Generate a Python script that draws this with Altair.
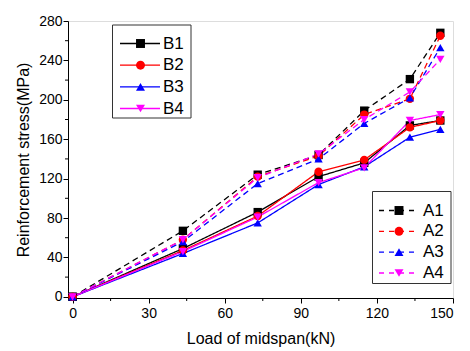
import altair as alt
import pandas as pd

loads = [0, 43.5, 73, 97, 115, 133, 145]

A1 = [0, 67, 124, 144, 189, 221, 268]
A2 = [0, 58, 122, 143, 185, 201, 265]
A3 = [0, 56, 115, 140, 176, 202, 253]
A4 = [0, 58, 121, 145, 180, 208, 241]
B1 = [0, 49, 86, 122, 136, 174, 179]
B2 = [0, 47, 82, 127, 139, 172, 179]
B3 = [0, 44, 75, 114, 132, 162, 170]
B4 = [0, 46, 81, 116, 131, 179, 185]

series_names = ["B1", "B2", "B3", "B4", "A1", "A2", "A3", "A4"]
series_vals = [B1, B2, B3, B4, A1, A2, A3, A4]
colors = ["black", "#FF0000", "#0000FF", "#FF00FF"] * 2
shapes = ["square", "circle", "triangle-up", "triangle-down"] * 2

x_minor = [15, 45, 75, 105, 135]
y_minor = [20, 60, 100, 140, 180, 220, 260]

rows = []
for name, vals in zip(series_names, series_vals):
    for x, v in zip(loads, vals):
        rows.append({"series": name, "group": name[0], "load": x, "stress": v})
df = pd.DataFrame(rows)

W, H = 385, 277
FONT = "Liberation Sans"

color_scale = alt.Scale(domain=series_names, range=colors)
shape_scale = alt.Scale(domain=series_names, range=shapes)
dash_scale = alt.Scale(domain=["A", "B"], range=[[6, 4], [1, 0]])

xs = alt.Scale(domain=[-1.8, 150], nice=False)
ys = alt.Scale(domain=[-1.2, 280], nice=False)

xaxis = alt.Axis(values=[0, 30, 60, 90, 120, 150], title="Load of midspan(kN)",
                 grid=False, tickSize=5, labelFontSize=14, titleFontSize=16,
                 titleFontWeight="normal", labelPadding=3, titlePadding=10,
                 domainColor="black", tickColor="black", labelColor="black",
                 titleColor="black", labelFont=FONT, titleFont=FONT)
yaxis = alt.Axis(values=[0, 40, 80, 120, 160, 200, 240, 280],
                 title="Reinforcement stress(MPa)",
                 grid=False, tickSize=5, labelFontSize=14, titleFontSize=16,
                 titleFontWeight="normal", labelPadding=1, titlePadding=7,
                 domainColor="black", tickColor="black", labelColor="black",
                 titleColor="black", labelFont=FONT, titleFont=FONT)

lines = alt.Chart(df).mark_line(strokeWidth=1.3).encode(
    x=alt.X("load:Q", scale=xs, axis=xaxis),
    y=alt.Y("stress:Q", scale=ys, axis=yaxis),
    color=alt.Color("series:N", scale=color_scale, legend=None),
    strokeDash=alt.StrokeDash("group:N", scale=dash_scale, legend=None),
    detail="series:N",
)
points = alt.Chart(df).mark_point(filled=True, opacity=1, size=70).encode(
    x=alt.X("load:Q", scale=xs, axis=xaxis),
    y=alt.Y("stress:Q", scale=ys, axis=None),
    color=alt.Color("series:N", scale=color_scale, legend=None),
    shape=alt.Shape("series:N", scale=shape_scale, legend=None),
)

xminor = alt.Chart(pd.DataFrame({"load": x_minor})).mark_rule(color="black").encode(
    x=alt.X("load:Q", scale=xs, axis=xaxis), y=alt.value(H), y2=alt.value(H + 3))
yminor = alt.Chart(pd.DataFrame({"v": y_minor})).mark_rule(color="black").encode(
    y=alt.Y("v:Q", scale=ys, axis=None), x=alt.value(0), x2=alt.value(-3))


def legend(names, dash, box, line_x, marker_x, text_x, row_y):
    ldf = pd.DataFrame({"series": names, "row": list(range(len(names)))})
    ry = alt.Y("row:Q", scale=alt.Scale(domain=[0, len(names) - 1], range=row_y), axis=None)
    frame = alt.Chart(pd.DataFrame({"a": [0]})).mark_rect(
        fill="white", stroke="#333333", strokeWidth=1).encode(
        x=alt.value(box[0]), x2=alt.value(box[1]), y=alt.value(box[2]), y2=alt.value(box[3]))
    seg = alt.Chart(ldf).mark_rule(strokeWidth=1.3, strokeDash=dash).encode(
        x=alt.value(line_x[0]), x2=alt.value(line_x[1]), y=ry,
        color=alt.Color("series:N", scale=color_scale, legend=None))
    mk = alt.Chart(ldf).mark_point(filled=True, opacity=1, size=80).encode(
        x=alt.value(marker_x), y=ry,
        color=alt.Color("series:N", scale=color_scale, legend=None),
        shape=alt.Shape("series:N", scale=shape_scale, legend=None))
    tx = alt.Chart(ldf).mark_text(align="left", baseline="middle", fontSize=17,
                                  font=FONT, color="black").encode(
        x=alt.value(text_x), y=ry, text="series:N")
    return [frame, seg, mk, tx]


ox, oy = 68, 21
legB = legend(["B1", "B2", "B3", "B4"], [1, 0],
              (112.5 - ox, 191 - ox, 25 - oy, 118 - oy),
              (120 - ox, 160 - ox), 140.5 - ox, 163 - ox,
              [43.5 - oy, 108.5 - oy])
legA = legend(["A1", "A2", "A3", "A4"], [5, 5],
              (372.5 - ox, 451 - ox, 191.5 - oy, 283.5 - oy),
              (379 - ox, 414 - ox), 399 - ox, 423 - ox,
              [210.5 - oy, 273 - oy])

chart = alt.layer(lines, points, xminor, yminor, *legB, *legA).resolve_scale(
    y="independent"
).properties(
    width=W, height=H,
    autosize=alt.AutoSizeParams(type="none"),
    padding={"left": ox - 8, "top": oy - 8, "right": 9, "bottom": 50},
).configure_view(stroke=None).configure(background="white")

chart.save("out.html", embed_options={"renderer": "svg", "actions": False})
